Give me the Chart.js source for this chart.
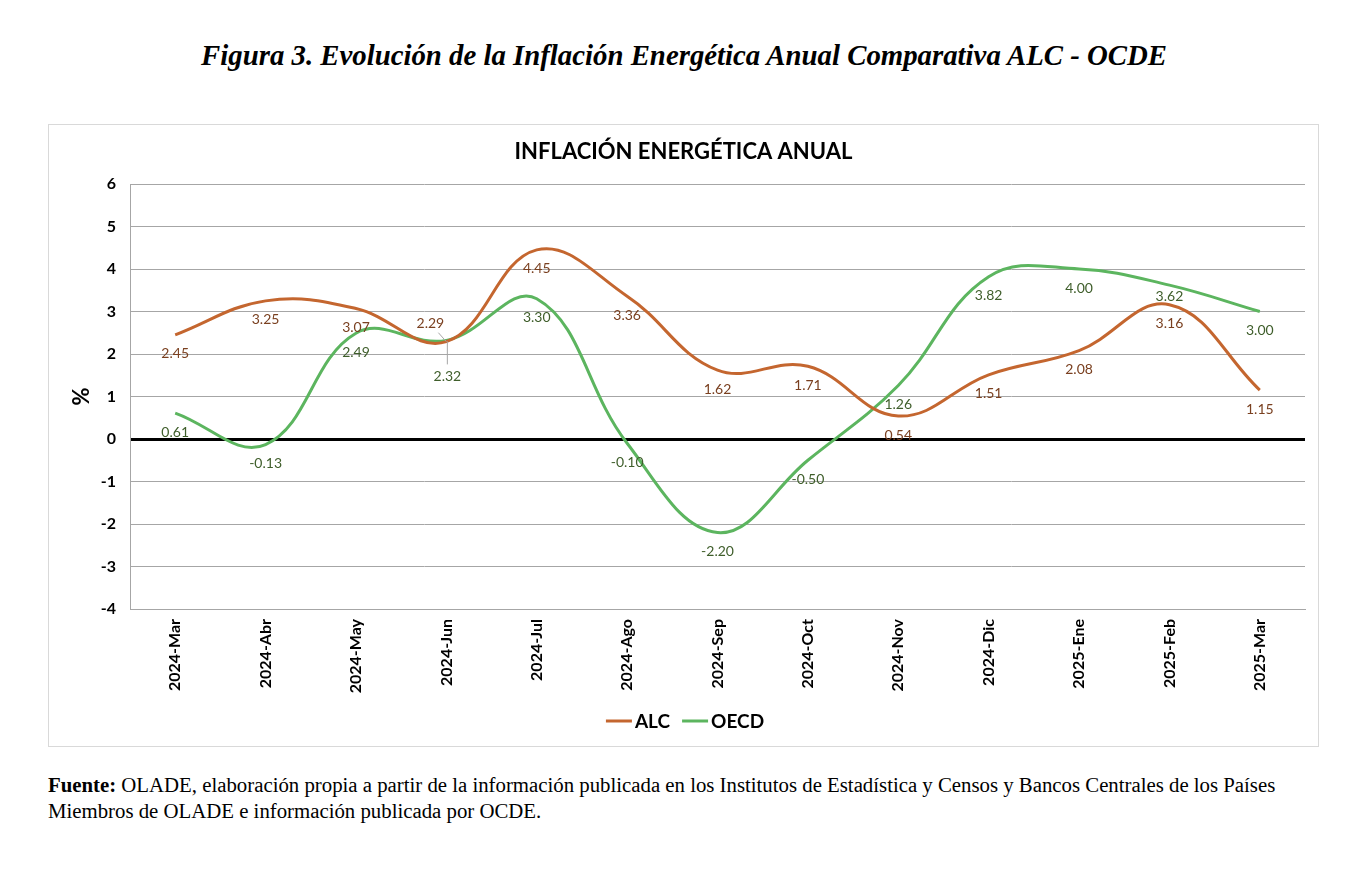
<!DOCTYPE html>
<html>
<head>
<meta charset="utf-8">
<script src="https://cdn.jsdelivr.net/npm/chart.js@4.4.1/dist/chart.umd.min.js"></script>
<style>
  html, body { margin: 0; padding: 0; background: #fff; }
  body { width: 1372px; height: 878px; position: relative; overflow: hidden; }
  #fig { position: absolute; left: 0; top: 37px; width: 1368px; text-align: center;
         font-family: "Liberation Serif", "DejaVu Serif", serif; font-weight: bold; font-style: italic;
         font-size: 28.8px; line-height: 36px; color: #000; }
  #box { position: absolute; left: 48px; top: 124px; width: 1271px; height: 623px;
         box-sizing: border-box; border: 1px solid #d9d9d9; background: #fff; }
  #box canvas { position: absolute; left: 0; top: 0; }
  #src { position: absolute; left: 48px; top: 772px; width: 1320px; white-space: nowrap;
         font-family: "Liberation Serif", "DejaVu Serif", serif; font-size: 20.8px; line-height: 26px; color: #000; }
</style>
</head>
<body>
<div id="fig">Figura 3. Evolución de la Inflación Energética Anual Comparativa ALC - OCDE</div>
<div id="box"><canvas id="c" width="1269" height="621"></canvas></div>
<div id="src"><b>Fuente:</b> OLADE, elaboración propia a partir de la información publicada en los Institutos de Estadística y Censos y Bancos Centrales de los Países<br>Miembros de OLADE e información publicada por OCDE.</div>
<script>
const categories = ["2024-Mar","2024-Abr","2024-May","2024-Jun","2024-Jul","2024-Ago","2024-Sep","2024-Oct","2024-Nov","2024-Dic","2025-Ene","2025-Feb","2025-Mar"];
const alcValues  = [2.45, 3.25, 3.07, 2.29, 4.45, 3.36, 1.62, 1.71, 0.54, 1.51, 2.08, 3.16, 1.15];
const oecdValues = [0.61, -0.13, 2.49, 2.32, 3.30, -0.10, -2.20, -0.50, 1.26, 3.82, 4.00, 3.62, 3.00];
const yTicks = [6, 5, 4, 3, 2, 1, 0, -1, -2, -3, -4];
const seriesNames = ["ALC", "OECD"];
const chartTitle = "INFLACIÓN ENERGÉTICA ANUAL";

const ALC_LINE = "#C4662F", ALC_TEXT = "#7A4020";
const OECD_LINE = "#5CB55F", OECD_TEXT = "#3F5E2B";
const GRID = "#A6A6A6";

// label offsets (style only): per-dataset per-index overrides
const labelOffsets = [
  { 3: {dx: -16, dy: -18, leader: "diag"} },
  { 3: {dx: 1, dy: 36, leader: "vert"}, 11: {dx: 0, dy: 11} }
];

const dataLabelPlugin = {
  id: "dataLabels",
  afterDatasetsDraw(chart) {
    const ctx = chart.ctx;
    ctx.save();
    ctx.font = "14px Lato";
    ctx.textAlign = "center";
    ctx.textBaseline = "middle";
    chart.data.datasets.forEach((ds, di) => {
      const meta = chart.getDatasetMeta(di);
      meta.data.forEach((pt, i) => {
        const ov = labelOffsets[di][i] || {};
        const dx = ov.dx !== undefined ? ov.dx : 0;
        const dy = ov.dy !== undefined ? ov.dy : 19;
        const lx = pt.x + dx, ly = pt.y + dy;
        if (ov.leader) {
          ctx.strokeStyle = GRID; ctx.lineWidth = 1;
          ctx.beginPath();
          if (ov.leader === "diag") { ctx.moveTo(lx + 8, ly + 9); ctx.lineTo(pt.x, pt.y); }
          else { ctx.moveTo(lx, pt.y + 1); ctx.lineTo(lx, ly - 12); }
          ctx.stroke();
        }
        ctx.fillStyle = ds.labelColor;
        ctx.fillText(ds.data[i].toFixed(2), lx, ly);
      });
    });
    ctx.restore();
  },
  afterDraw(chart) {
    const ctx = chart.ctx;
    ctx.save();
    // chart title
    ctx.font = "bold 22px Lato";
    ctx.textAlign = "center";
    ctx.textBaseline = "middle";
    ctx.fillStyle = "#000";
    ctx.fillText(chartTitle, chart.width / 2, 27);
    // legend
    ctx.font = "bold 19px Lato";
    ctx.textAlign = "left";
    const y = 596;
    const lineW = 26, gap = 3, itemGap = 12;
    let total = 0;
    const widths = chart.data.datasets.map(ds => ctx.measureText(ds.label).width);
    widths.forEach(w => total += lineW + gap + w);
    total += itemGap * (widths.length - 1);
    let x = 636 - total / 2;
    chart.data.datasets.forEach((ds, di) => {
      ctx.strokeStyle = ds.borderColor; ctx.lineWidth = 3;
      ctx.beginPath(); ctx.moveTo(x, y); ctx.lineTo(x + lineW, y); ctx.stroke();
      x += lineW + gap;
      ctx.fillStyle = "#000";
      ctx.fillText(ds.label, x, y + 1);
      x += widths[di] + itemGap;
    });
    ctx.restore();
  }
};

new Chart(document.getElementById("c"), {
  type: "line",
  data: {
    labels: categories,
    datasets: [
      { label: seriesNames[0], data: alcValues, borderColor: ALC_LINE, backgroundColor: ALC_LINE,
        borderWidth: 3, pointRadius: 0, tension: 0.4, labelColor: ALC_TEXT },
      { label: seriesNames[1], data: oecdValues, borderColor: OECD_LINE, backgroundColor: OECD_LINE,
        borderWidth: 3, pointRadius: 0, tension: 0.4, labelColor: OECD_TEXT }
    ]
  },
  options: {
    responsive: false,
    animation: false,
    devicePixelRatio: 1,
    layout: { padding: { top: 59, left: 0, right: 13, bottom: 40 } },
    plugins: {
      legend: { display: false },
      tooltip: { enabled: false },
      title: { display: false }
    },
    scales: {
      x: {
        offset: true,
        grid: { display: false, drawTicks: false },
        border: { display: true, color: GRID, width: 1 },
        ticks: { maxRotation: 90, minRotation: 90, autoSkip: false, padding: 10,
                 color: "#000", font: { family: "Lato", size: 16, weight: "bold" } },
        afterFit(scale) { scale.height = 97; }
      },
      y: {
        min: -4, max: 6,
        afterBuildTicks(scale) { scale.ticks = yTicks.map(v => ({ value: v })); },
        grid: {
          drawTicks: false,
          color: ctx => (ctx.tick && ctx.tick.value === 0) ? "#000" : GRID,
          lineWidth: ctx => (ctx.tick && ctx.tick.value === 0) ? 3 : 1
        },
        border: { display: true, color: GRID, width: 1 },
        ticks: { padding: 14, color: "#000", font: { family: "Lato", size: 16, weight: "bold" } },
        title: { display: true, text: "%", color: "#000",
                 font: { family: "Lato", size: 22, weight: "bold" }, padding: { top: 20, bottom: 0 } },
        afterFit(scale) { scale.width = 81; }
      }
    }
  },
  plugins: [dataLabelPlugin]
});
</script>
</body>
</html>
